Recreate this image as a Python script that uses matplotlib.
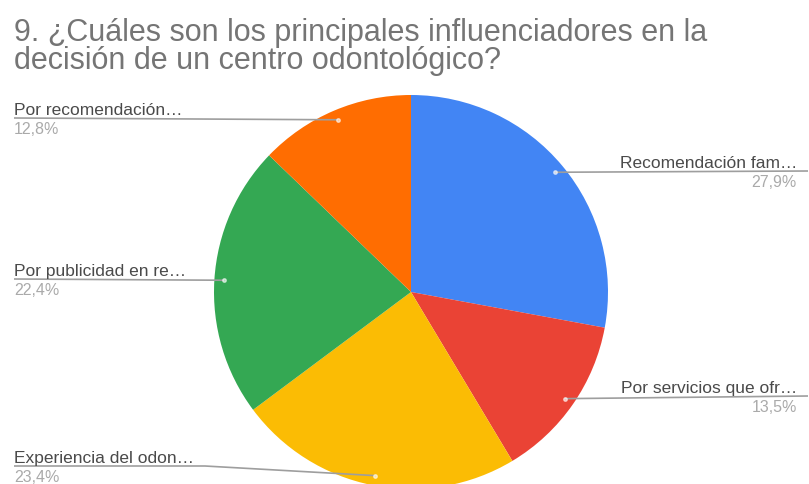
import numpy as np
import matplotlib.pyplot as plt

# Encuesta: principales influenciadores en la decisión de un centro odontológico
labels = ['Recomendación fam…', 'Por servicios que ofr…', 'Experiencia del odon…',
          'Por publicidad en re…', 'Por recomendación…']
values = [27.9, 13.5, 23.4, 22.4, 12.8]
value_labels = ['27,9%', '13,5%', '23,4%', '22,4%', '12,8%']
colors = ['#4285F4', '#EA4335', '#FBBC04', '#34A853', '#FF6D01']

plt.rcParams['font.family'] = ['Liberation Sans', 'DejaVu Sans']

W, H = 809, 485
fig = plt.figure(figsize=(W / 100, H / 100), dpi=100)
ax = fig.add_axes([0, 0, 1, 1])

# pixel-like coordinates, y measured upward
cx, cy, r = 411, H - 293, 197
wedges, _ = ax.pie(values, colors=colors, startangle=90, counterclock=False,
                   center=(cx, cy), radius=r, wedgeprops=dict(linewidth=0))
ax.set_xlim(0, W)
ax.set_ylim(0, H)
ax.set_aspect('equal')
ax.axis('off')

# label placement: (side, y of the underline in image pixels)
place = [('right', 172), ('right', 397), ('left', 467), ('left', 280), ('left', 119)]
line_col = '#9e9e9e'
for w, lab, val, (side, ly) in zip(wedges, labels, value_labels, place):
    ang = np.deg2rad((w.theta1 + w.theta2) / 2)
    ax_x = cx + 0.95 * r * np.cos(ang)
    ax_y = cy + 0.95 * r * np.sin(ang)
    y = H - ly
    if side == 'left':
        if lab.startswith('Experiencia'):
            xs, ys = [14, 205, ax_x], [y, y, ax_y]
        else:
            xs, ys = [14, ax_x], [y, ax_y]
        ax.plot(xs, ys, color=line_col, lw=1.2, solid_capstyle='butt')
        ax.text(14, y + 4, lab, ha='left', va='baseline', fontsize=12.5, color='#4a4a4a')
        ax.text(14, y - 3, val, ha='left', va='top', fontsize=11.5, color='#aaaaaa')
    else:
        ax.plot([ax_x, 808], [ax_y, y], color=line_col, lw=1.2, solid_capstyle='butt')
        ax.text(797, y + 4, lab, ha='right', va='baseline', fontsize=12.5, color='#4a4a4a')
        ax.text(797, y - 3, val, ha='right', va='top', fontsize=11.5, color='#aaaaaa')
    ax.plot(ax_x, ax_y, 'o', ms=2.5, color='white', alpha=0.6)

title = ('9. ¿Cuáles son los principales influenciadores en la\n'
         'decisión de un centro odontológico?')
fig.text(14 / W, 1 - 18 / H, title, ha='left', va='top', fontsize=22,
         color='#757575', linespacing=0.92)

fig.savefig('out.png', dpi=100)
